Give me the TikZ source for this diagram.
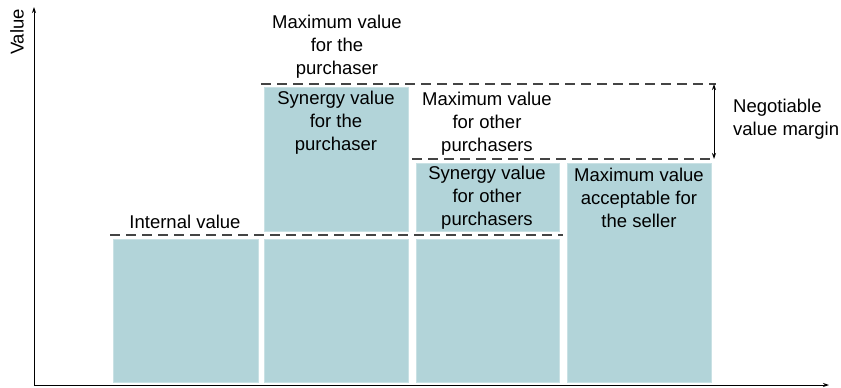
\documentclass[tikz,border=0pt]{standalone}
\usepackage{fontspec}
\setmainfont{Liberation Sans}
\usetikzlibrary{arrows.meta}
\definecolor{barfill}{HTML}{B2D4D9}
\definecolor{dashgray}{HTML}{444444}
\tikzset{
  bar/.style={fill=barfill, draw=barfill!70!white, line width=0.6pt},
  lbl/.style={align=center, font=\fontsize{18.5}{23}\selectfont, inner sep=0pt},
  dline/.style={draw=dashgray, line width=1.2pt, dash pattern=on 10pt off 6pt},
  axis/.style={draw=black, line width=0.9pt, -{Stealth[length=6pt,width=4pt]}},
}
\begin{document}
\begin{tikzpicture}[x=1pt,y=-1pt]
\useasboundingbox (0,0) rectangle (841,388);
% bars
\path[bar] (113,239) rectangle (258,382);
\path[bar] (264,239) rectangle (408,382);
\path[bar] (264,87) rectangle (408,231);
\path[bar] (416,239) rectangle (559,382);
\path[bar] (416,163) rectangle (559,231);
\path[bar] (567,163) rectangle (711,382);
% axes
\coordinate (O) at (34,385);
\coordinate (ytop) at (34,7);
\coordinate (xend) at (829,385);
\draw[axis] (O) -- (ytop);
\draw[axis] (O) -- (xend);
% dashed levels
\coordinate (i1) at (110,235);
\coordinate (i2) at (563,235);
\coordinate (t1) at (261,84);
\coordinate (t2) at (716,84);
\coordinate (m1) at (412,159);
\coordinate (m2) at (716,159);
\draw[dline] (i1) -- (i2);
\draw[dline] (t1) -- (t2);
\draw[dline] (m1) -- (m2);
% margin arrow
\coordinate (a1) at (714,84);
\coordinate (a2) at (714,159);
\draw[line width=0.9pt, {Stealth[length=6pt,width=4pt]}-{Stealth[length=6pt,width=4pt]}] (a1) -- (a2);
% labels
\node[lbl, rotate=90] (yl) at (17,32) {Value};
\node[lbl] (maxp) at (337,47) {Maximum value\\for the\\purchaser};
\node[lbl] (intv) at (185,222) {Internal value};
\node[lbl] (synp) at (336,123) {Synergy value\\for the\\purchaser};
\node[lbl] (maxo) at (487,124) {Maximum value\\for other\\purchasers};
\node[lbl] (syno) at (487,198) {Synergy value\\for other\\purchasers};
\node[lbl] (maxs) at (639,198) {Maximum value\\acceptable for\\the seller};
\node[lbl, align=left, anchor=west] (neg) at (733,119) {Negotiable\\value margin};
\end{tikzpicture}
\end{document}
